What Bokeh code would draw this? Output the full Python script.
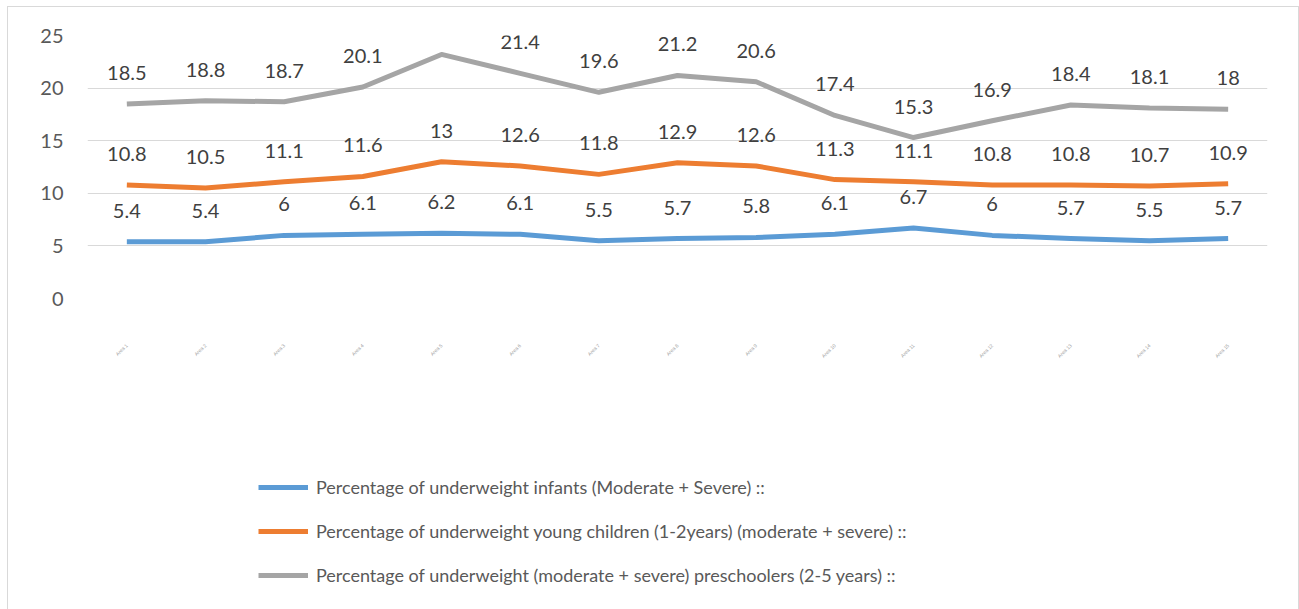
from bokeh.plotting import figure
from bokeh.layouts import column
from bokeh.models import ColumnDataSource, LabelSet, Legend, LegendItem, FixedTicker, Range1d
from bokeh.embed import file_html
from bokeh.resources import INLINE
from bokeh.core.properties import value

categories = ["Area 1", "Area 2", "Area 3", "Area 4", "Area 5", "Area 6", "Area 7", "Area 8",
              "Area 9", "Area 10", "Area 11", "Area 12", "Area 13", "Area 14", "Area 15"]
infants = [5.4, 5.4, 6, 6.1, 6.2, 6.1, 5.5, 5.7, 5.8, 6.1, 6.7, 6, 5.7, 5.5, 5.7]
young_children = [10.8, 10.5, 11.1, 11.6, 13, 12.6, 11.8, 12.9, 12.6, 11.3, 11.1, 10.8, 10.8, 10.7, 10.9]
preschoolers = [18.5, 18.8, 18.7, 20.1, 23.2, 21.4, 19.6, 21.2, 20.6, 17.4, 15.3, 16.9, 18.4, 18.1, 18]
series_names = [
    "Percentage of underweight infants (Moderate + Severe) ::",
    "Percentage of underweight young children (1-2years) (moderate + severe) ::",
    "Percentage of underweight (moderate + severe) preschoolers (2-5 years) ::",
]
colors = ["#5B9BD5", "#ED7D31", "#A5A5A5"]
y_ticks = [0, 5, 10, 15, 20, 25]

FONT = "Lato"
TXT = "#595959"
W = 1290

p = figure(width=W, height=434, x_range=categories, y_range=(0, 25),
           output_backend="svg", toolbar_location=None,
           min_border_left=79, min_border_right=31, min_border_top=28, min_border_bottom=143)
p.outline_line_color = None

p.xgrid.grid_line_color = None
p.ygrid.grid_line_color = "#D9D9D9"
p.ygrid.grid_line_width = 1

p.yaxis.ticker = FixedTicker(ticks=y_ticks)
p.yaxis.axis_line_color = None
p.yaxis.major_tick_line_color = None
p.yaxis.minor_tick_line_color = None
p.yaxis.major_label_text_font = FONT
p.yaxis.major_label_text_font_size = "20px"
p.yaxis.major_label_text_color = TXT
p.yaxis.major_label_standoff = 18

p.xaxis.axis_line_color = None
p.xaxis.major_tick_line_color = None
p.xaxis.major_label_orientation = 0.785
p.xaxis.major_label_text_font_size = "5px"
p.xaxis.major_label_text_color = "#A0A0A0"
p.xaxis.major_label_standoff = 40

p2 = figure(width=W, height=169, x_range=Range1d(0, 1), y_range=Range1d(0, 1),
            output_backend="svg", toolbar_location=None,
            x_axis_location=None, y_axis_location=None,
            min_border_left=0, min_border_right=0, min_border_top=0, min_border_bottom=0)
p2.grid.visible = False
p2.outline_line_color = None

items = []
for name, vals, col in zip(series_names, [infants, young_children, preschoolers], colors):
    src = ColumnDataSource(dict(x=categories, y=vals, t=[str(v) for v in vals]))
    p.line("x", "y", source=src, line_color=col, line_width=5, line_join="round")
    lab = LabelSet(x="x", y="y", text="t", source=src, y_offset=31, text_align="center",
                   text_baseline="middle", text_font=value(FONT), text_font_size="20px",
                   text_color="#404040")
    p.add_layout(lab)
    r2 = p2.line(x=[5, 6], y=[5, 6], line_color=col, line_width=5)
    items.append(LegendItem(label=name, renderers=[r2]))

legend = Legend(items=items, location=(171, 24), orientation="vertical",
                label_text_font=FONT, label_text_font_size="18px", label_text_color=TXT,
                glyph_width=50, glyph_height=20, label_height=20, spacing=22,
                label_standoff=8, padding=0, margin=0,
                border_line_color=None, background_fill_alpha=0)
p2.add_layout(legend, "center")

layout = column(p, p2, spacing=0, margin=(6, 0, 0, 7))
layout.styles = {"border-top": "1px solid #D9D9D9", "border-left": "1px solid #D9D9D9",
                 "border-right": "1px solid #D9D9D9", "box-sizing": "content-box"}

open("out.html", "w").write(file_html(layout, INLINE))
